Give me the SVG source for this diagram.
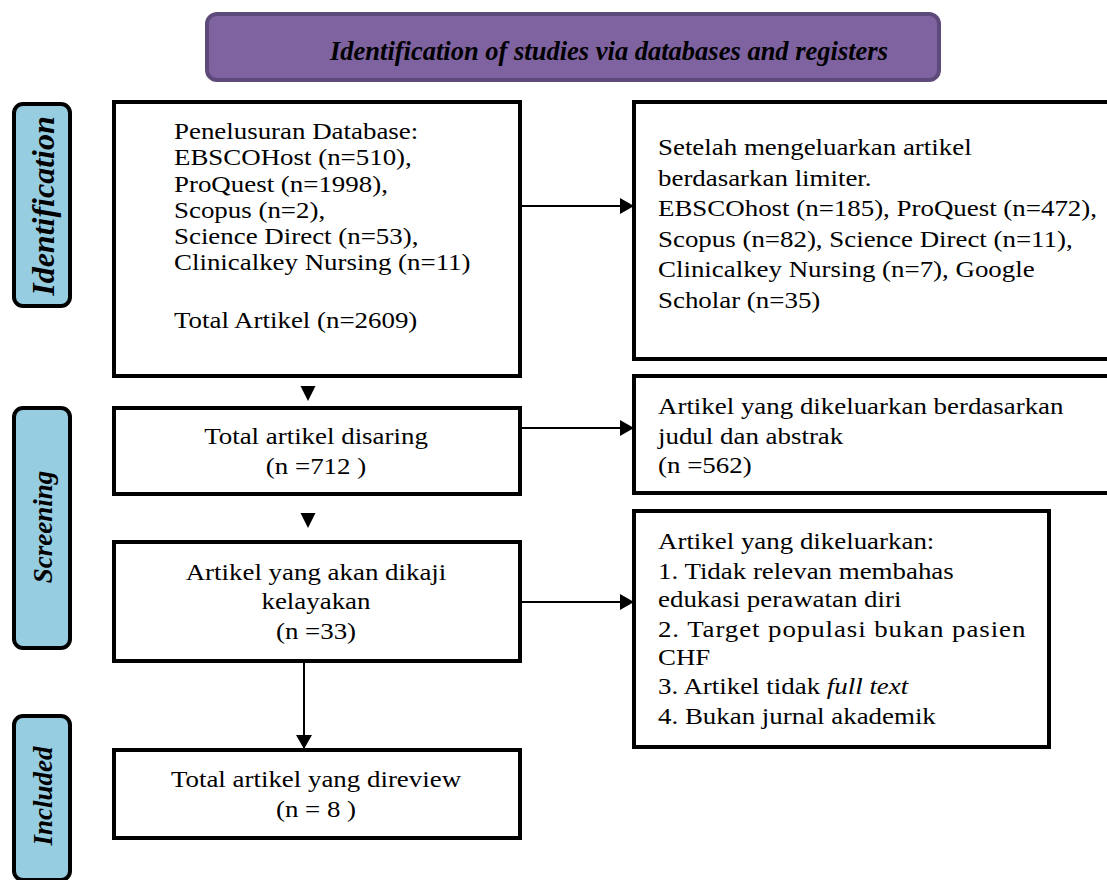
<svg xmlns="http://www.w3.org/2000/svg" width="1107" height="880" viewBox="0 0 1107 880">
<style>
.box{fill:#fff;stroke:#000;stroke-width:4}
.side{fill:#96cde0;stroke:#000;stroke-width:4}
.t{font-family:"Liberation Serif","Times New Roman",serif;font-size:23px;fill:#000}
.c{text-anchor:middle}
.side-t{font-family:"Liberation Serif","Times New Roman",serif;font-size:27px;font-weight:bold;font-style:italic;text-anchor:middle;fill:#000}
.ln{stroke:#000;stroke-width:2;fill:none}
.ah{fill:#000}
</style>
<defs>
<marker id="arr" markerUnits="userSpaceOnUse" markerWidth="14" markerHeight="16" refX="13" refY="8" orient="auto">
<path d="M0,0 L14,8 L0,16 Z" fill="#000"/>
</marker>
</defs>
<rect width="1107" height="880" fill="#fff"/>

<g id="title">
<rect x="207" y="14" width="732" height="66" rx="10" fill="#7f63a0" stroke="#5e4a7a" stroke-width="4"/>
<text x="330" y="60" font-family="Liberation Serif, serif" font-size="26.5" font-weight="bold" font-style="italic">Identification of studies via databases and registers</text>
</g>

<g id="side-identification">
<rect x="14" y="104" width="56" height="202" rx="9" class="side"/>
<text class="side-t" style="font-size:32px" transform="translate(54,206) rotate(-90)">Identification</text>
</g>
<g id="side-screening">
<rect x="14" y="408" width="56" height="240" rx="9" class="side"/>
<text class="side-t" transform="translate(52,527) rotate(-90)">Screening</text>
</g>
<g id="side-included">
<rect x="14" y="716" width="56" height="164" rx="9" class="side"/>
<text class="side-t" transform="translate(52,796) rotate(-90)">Included</text>
</g>

<g id="box-database">
<rect x="114" y="102" width="406" height="274" class="box"/>
<g transform="translate(174,0) scale(1.17,1)">
<text class="t" x="0" y="139">Penelusuran Database:</text>
<text class="t" x="0" y="165">EBSCOHost (n=510),</text>
<text class="t" x="0" y="192">ProQuest (n=1998),</text>
<text class="t" x="0" y="218">Scopus (n=2),</text>
<text class="t" x="0" y="244">Science Direct (n=53),</text>
<text class="t" x="0" y="270">Clinicalkey Nursing (n=11)</text>
<text class="t" x="0" y="328">Total Artikel (n=2609)</text>
</g>
</g>

<g id="box-limiter">
<rect x="634" y="102" width="480" height="257" class="box"/>
<g transform="translate(658,0) scale(1.17,1)">
<text class="t" x="0" y="155">Setelah mengeluarkan artikel</text>
<text class="t" x="0" y="186">berdasarkan limiter.</text>
<text class="t" x="0" y="216">EBSCOhost (n=185), ProQuest (n=472),</text>
<text class="t" x="0" y="247">Scopus (n=82), Science Direct (n=11),</text>
<text class="t" x="0" y="277">Clinicalkey Nursing (n=7), Google</text>
<text class="t" x="0" y="308">Scholar (n=35)</text>
</g>
</g>

<g id="box-screened">
<rect x="114" y="408" width="406" height="86" class="box"/>
<g transform="translate(316,0) scale(1.17,1)">
<text class="t c" x="0" y="444">Total artikel disaring</text>
<text class="t c" x="0" y="474">(n =712 )</text>
</g>
</g>

<g id="box-excluded-title">
<rect x="634" y="376" width="480" height="117" class="box"/>
<g transform="translate(658,0) scale(1.17,1)">
<text class="t" x="0" y="414">Artikel yang dikeluarkan berdasarkan</text>
<text class="t" x="0" y="444">judul dan abstrak</text>
<text class="t" x="0" y="473">(n =562)</text>
</g>
</g>

<g id="box-eligibility">
<rect x="114" y="542" width="406" height="119" class="box"/>
<g transform="translate(316,0) scale(1.17,1)">
<text class="t c" x="0" y="580">Artikel yang akan dikaji</text>
<text class="t c" x="0" y="609">kelayakan</text>
<text class="t c" x="0" y="639">(n =33)</text>
</g>
</g>

<g id="box-excluded-full">
<rect x="634" y="511" width="415" height="236" class="box"/>
<g transform="translate(658,0) scale(1.17,1)">
<text class="t" x="0" y="549">Artikel yang dikeluarkan:</text>
<text class="t" x="0" y="579">1. Tidak relevan membahas</text>
<text class="t" x="0" y="607">edukasi perawatan diri</text>
<text class="t" x="0" y="637" textLength="314" lengthAdjust="spacing">2. Target populasi bukan pasien</text>
<text class="t" x="0" y="665">CHF</text>
<text class="t" x="0" y="694">3. Artikel tidak <tspan font-style="italic">full text</tspan></text>
<text class="t" x="0" y="724">4. Bukan jurnal akademik</text>
</g>
</g>

<g id="box-included">
<rect x="114" y="750" width="406" height="88" class="box"/>
<g transform="translate(316,0) scale(1.17,1)">
<text class="t c" x="0" y="787">Total artikel yang direview</text>
<text class="t c" x="0" y="817">(n = 8 )</text>
</g>
</g>

<g id="connectors">
<line class="ln" x1="521" y1="206" x2="633" y2="206" marker-end="url(#arr)"/>
<line class="ln" x1="521" y1="428" x2="633" y2="428" marker-end="url(#arr)"/>
<line class="ln" x1="521" y1="602" x2="633" y2="602" marker-end="url(#arr)"/>
<line class="ln" x1="304" y1="662" x2="304" y2="748" marker-end="url(#arr)"/>
<polygon class="ah" points="300.5,386 315.5,386 308,401"/>
<polygon class="ah" points="300.5,513 315.5,513 308,528"/>
</g>
</svg>
